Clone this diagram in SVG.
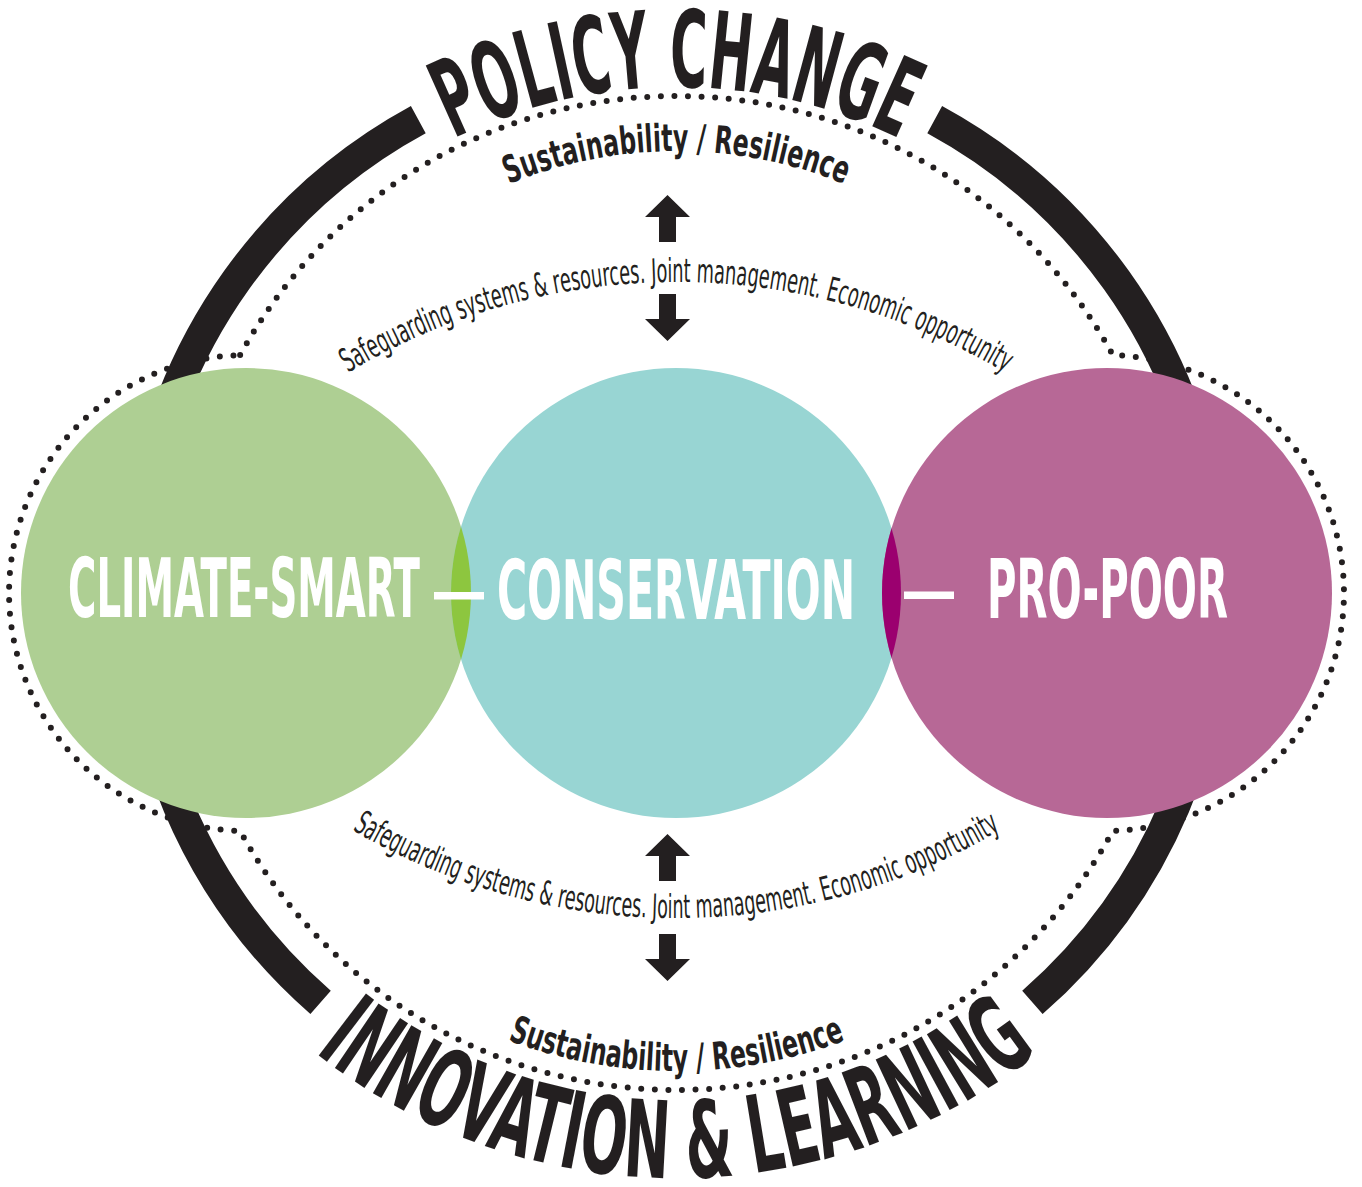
<svg xmlns="http://www.w3.org/2000/svg" width="1362" height="1187" viewBox="0 0 1362 1187">
<style>
.ink{fill:#231f20}
.dots{fill:none;stroke:#231f20;stroke-width:6;stroke-linecap:round;stroke-dasharray:0 13.6}
.band{fill:none;stroke:#231f20;stroke-width:31}
.big{font-family:"DejaVu Sans Condensed","DejaVu Sans",sans-serif;font-stretch:condensed;font-weight:bold;fill:#231f20}
.mid{font-family:"DejaVu Sans Condensed","DejaVu Sans",sans-serif;font-stretch:condensed;font-weight:bold;fill:#231f20}
.sml{font-family:"DejaVu Sans Condensed","DejaVu Sans",sans-serif;font-stretch:condensed;fill:#231f20}
.lbl{font-family:"DejaVu Sans Condensed","DejaVu Sans",sans-serif;font-stretch:condensed;font-weight:bold;fill:#ffffff;font-size:82px}
</style>
<defs>
<path id="pPolicy" d="M350.6,205.6 A507,507 0 0 1 1002.4,205.6"/>
<path id="pInnov" d="M229.1,969.4 A584,584 0 0 0 1123.9,969.4"/>
<path id="pSusTop" d="M292.9,372.5 A443,443 0 0 1 1060.1,372.5"/>
<path id="pSusBot" d="M263.4,832.5 A477,477 0 0 0 1089.6,832.5"/>
<path id="pSafeTop" d="M122.2,602 A640,640 0 0 1 1230.8,602"/>
<path id="pSafeBot" d="M122.2,598 A640,640 0 0 0 1230.8,598"/>
<polygon id="arrowUp" points="0,0 22.5,22 8.5,22 8.5,47 -8.5,47 -8.5,22 -22.5,22"/>
<clipPath id="clipTeal"><circle cx="676" cy="593" r="225"/></clipPath>
</defs>
<rect width="1362" height="1187" fill="#ffffff"/>

<g id="dotted-outline">
<path class="dots" d="M240.15,355.1 A497,497 0 0 1 1112.85,355.1 A238,238 0 0 1 1112.85,830.9 A497,497 0 0 1 240.15,830.9 A238,238 0 0 1 240.15,355.1 Z"/>
</g>

<g id="outer-ring">
<path class="band" d="M320.6,1002.4 A541,541 0 0 1 418.3,119.6"/>
<path class="band" d="M934.7,119.6 A541,541 0 0 1 1032.4,1002.4"/>
</g>

<g id="climate-smart">
<circle cx="246" cy="593" r="225" fill="#aecf93"/>
</g>
<g id="conservation">
<circle cx="676" cy="593" r="225" fill="#98d5d3"/>
</g>
<g id="pro-poor">
<circle cx="1107" cy="593" r="225" fill="#b76896"/>
</g>
<g id="overlaps">
<circle cx="246" cy="593" r="225" fill="#8dc63f" clip-path="url(#clipTeal)"/>
<circle cx="1107" cy="593" r="225" fill="#9b006f" clip-path="url(#clipTeal)"/>
</g>

<g id="labels">
<text class="lbl" x="68" y="617" textLength="352" lengthAdjust="spacingAndGlyphs">CLIMATE-SMART</text>
<rect x="434" y="592" width="50" height="7.5" fill="#ffffff"/>
<text class="lbl" x="497" y="619" textLength="358" lengthAdjust="spacingAndGlyphs">CONSERVATION</text>
<rect x="904" y="591.5" width="50" height="7.5" fill="#ffffff"/>
<text class="lbl" x="987" y="618" textLength="241" lengthAdjust="spacingAndGlyphs">PRO-POOR</text>
</g>

<g id="connectors">
<use href="#arrowUp" class="ink" transform="translate(667.5,195)"/>
<use href="#arrowUp" class="ink" transform="translate(667.5,341) scale(1,-1)"/>
<use href="#arrowUp" class="ink" transform="translate(667.5,834)"/>
<use href="#arrowUp" class="ink" transform="translate(667.5,981) scale(1,-1)"/>
</g>

<g id="ring-texts">
<text class="big" font-size="107" text-anchor="middle"><textPath href="#pPolicy" startOffset="50%" textLength="462" lengthAdjust="spacingAndGlyphs">POLICY CHANGE</textPath></text>
<text class="big" font-size="107" text-anchor="middle"><textPath href="#pInnov" startOffset="50%" textLength="780" lengthAdjust="spacingAndGlyphs">INNOVATION &amp; LEARNING</textPath></text>
<text class="mid" font-size="38" text-anchor="middle"><textPath href="#pSusTop" startOffset="50%" textLength="344" lengthAdjust="spacingAndGlyphs">Sustainability / Resilience</textPath></text>
<text class="mid" font-size="38" text-anchor="middle"><textPath href="#pSusBot" startOffset="50%" textLength="345" lengthAdjust="spacingAndGlyphs">Sustainability / Resilience</textPath></text>
<text class="sml" font-size="33" text-anchor="middle"><textPath href="#pSafeTop" startOffset="50%" textLength="690" lengthAdjust="spacingAndGlyphs">Safeguarding systems &amp; resources. Joint management. Economic opportunity</textPath></text>
<text class="sml" font-size="33" text-anchor="middle"><textPath href="#pSafeBot" startOffset="50%" textLength="680" lengthAdjust="spacingAndGlyphs">Safeguarding systems &amp; resources. Joint management. Economic opportunity</textPath></text>
</g>
</svg>
